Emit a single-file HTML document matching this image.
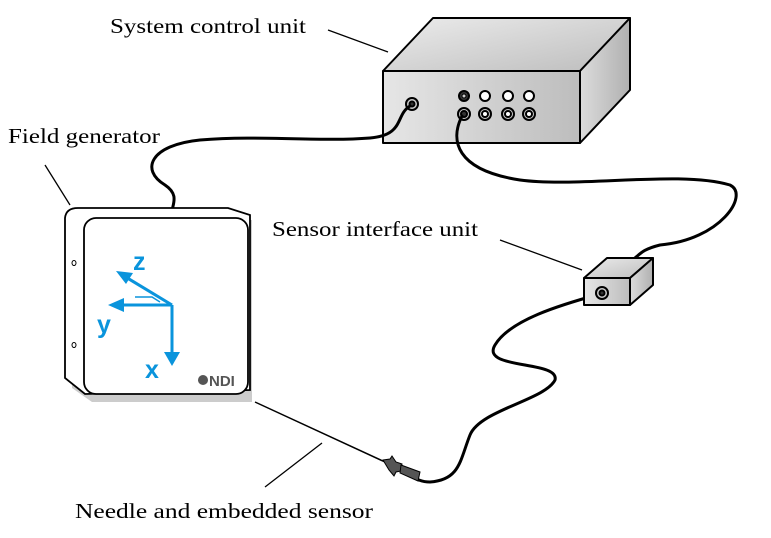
<!DOCTYPE html>
<html><head><style>
body{margin:0;background:#fff;}
svg{display:block;}
text{font-family:"Liberation Serif",serif;font-size:21px;fill:#000;}
</style></head><body>
<svg width="771" height="538" viewBox="0 0 771 538" xmlns="http://www.w3.org/2000/svg">
<defs>
<linearGradient id="g1" x1="0" y1="0" x2="1" y2="1"><stop offset="0" stop-color="#ececec"/><stop offset="1" stop-color="#bdbdbd"/></linearGradient>
<linearGradient id="g2" x1="0" y1="0" x2="1" y2="0"><stop offset="0" stop-color="#dcdcdc"/><stop offset="1" stop-color="#b0b0b0"/></linearGradient>
<linearGradient id="g3" x1="0" y1="0" x2="1" y2="0"><stop offset="0" stop-color="#e6e6e6"/><stop offset="1" stop-color="#bdbdbd"/></linearGradient>
</defs>
<text x="110" y="33" textLength="196" lengthAdjust="spacingAndGlyphs">System control unit</text>
<text x="8" y="143" textLength="152" lengthAdjust="spacingAndGlyphs">Field generator</text>
<text x="272" y="236" textLength="206" lengthAdjust="spacingAndGlyphs">Sensor interface unit</text>
<text x="75" y="518" textLength="298" lengthAdjust="spacingAndGlyphs">Needle and embedded sensor</text>
<g stroke="#000" stroke-width="1.3">
<line x1="328" y1="30" x2="388" y2="52"/>
<line x1="45" y1="165" x2="70" y2="205"/>
<line x1="500" y1="240" x2="582" y2="270"/>
<line x1="265" y1="487" x2="322" y2="443"/>
</g>
<g stroke="#000" stroke-width="2" stroke-linejoin="round">
<polygon points="383,71 433,18 630,18 580,71" fill="url(#g1)"/>
<polygon points="580,71 630,18 630,90 580,143" fill="url(#g2)"/>
<rect x="383" y="71" width="197" height="72" fill="url(#g3)"/>
</g>
<g stroke="#000" stroke-width="2">
<circle cx="412" cy="104" r="6" fill="#ccc"/><circle cx="412" cy="104" r="2.5" fill="#333"/>
<circle cx="464" cy="96" r="5" fill="#333"/><circle cx="464" cy="96" r="2" fill="#ccc" stroke-width="1"/>
<circle cx="485" cy="96" r="5" fill="#fff"/><circle cx="508" cy="96" r="5" fill="#fff"/><circle cx="529" cy="96" r="5" fill="#fff"/>
<circle cx="464" cy="114" r="6" fill="#ccc"/><circle cx="464" cy="114" r="3" fill="#333"/>
<circle cx="485" cy="114" r="6" fill="#ccc"/><circle cx="485" cy="114" r="3" fill="#fff"/>
<circle cx="508" cy="114" r="6" fill="#ccc"/><circle cx="508" cy="114" r="3" fill="#fff"/>
<circle cx="529" cy="114" r="6" fill="#ccc"/><circle cx="529" cy="114" r="3" fill="#fff"/>
</g>
<g fill="none" stroke="#000" stroke-width="3" stroke-linecap="round">
<path d="M410,106 C395,115 405,135 370,138 C320,142 260,135 200,140 C150,145 140,170 165,185 C180,195 172,205 172,212"/>
<path d="M462,116 C450,140 455,170 520,180 C580,188 680,170 730,185 C750,195 720,240 660,245 C640,250 640,255 630,262"/>
<path d="M600,294 C560,305 510,320 495,345 C480,370 560,360 555,380 C545,400 480,410 470,435 C460,460 460,480 430,482 C420,482 415,478 410,475"/>
</g>
<line x1="255" y1="402" x2="385" y2="462" stroke="#000" stroke-width="1.5"/>
<g stroke="#000" stroke-width="1" fill="#555">
<polygon points="383,460 390,459 392,456 396,462 402,464 401,471 396,472 394,476 389,470"/>
<polygon points="401,465 420,472 418,481 400,473"/>
</g>
<g stroke="#000" stroke-width="2" stroke-linejoin="round">
<polygon points="584,278 607,258 653,258 630,278" fill="url(#g1)"/>
<polygon points="630,278 653,258 653,285 630,305" fill="url(#g2)"/>
<rect x="584" y="278" width="46" height="27" fill="url(#g3)"/>
<circle cx="602" cy="293" r="6" fill="#ccc"/><circle cx="602" cy="293" r="2.5" fill="#333"/>
</g>
<path d="M72,216 L88,217 L252,220 L252,402 L92,402 L72,388 Z" fill="#ccc"/>
<path d="M65,218 Q66,208 78,208 L228,208 L250,215 L250,390 L85,394 L65,378 Z" fill="#fff" stroke="#000" stroke-width="1.8"/>
<rect x="84" y="218" width="164" height="176" rx="12" fill="#fff" stroke="#000" stroke-width="1.8"/>
<ellipse cx="74" cy="263" rx="2" ry="2.5" fill="none" stroke="#000"/>
<ellipse cx="74" cy="345" rx="2" ry="2.5" fill="none" stroke="#000"/>
<g stroke="#0a94dc" stroke-width="3" fill="#0a94dc">
<line x1="172" y1="305" x2="124" y2="276"/>
<polygon points="116,271 133,273 126,284" stroke="none"/>
<line x1="172" y1="305" x2="120" y2="305"/>
<polygon points="108,305 124,298 124,312" stroke="none"/>
<line x1="172" y1="305" x2="172" y2="352"/>
<polygon points="164,352 180,352 172,366" stroke="none"/>
<polyline points="135,297 152,297 160,302" fill="none" stroke-width="1.5"/>
</g>
<text x="133" y="270" style="font-family:'Liberation Sans',sans-serif;font-weight:bold;font-size:25px;fill:#0a94dc">z</text>
<text x="97" y="333" style="font-family:'Liberation Sans',sans-serif;font-weight:bold;font-size:25px;fill:#0a94dc">y</text>
<text x="145" y="378" style="font-family:'Liberation Sans',sans-serif;font-weight:bold;font-size:25px;fill:#0a94dc">x</text>
<circle cx="203" cy="380" r="5" fill="#555"/>
<text x="209" y="386" style="font-family:'Liberation Sans',sans-serif;font-weight:bold;font-size:15px;fill:#555">NDI</text>
</svg>
</body></html>
